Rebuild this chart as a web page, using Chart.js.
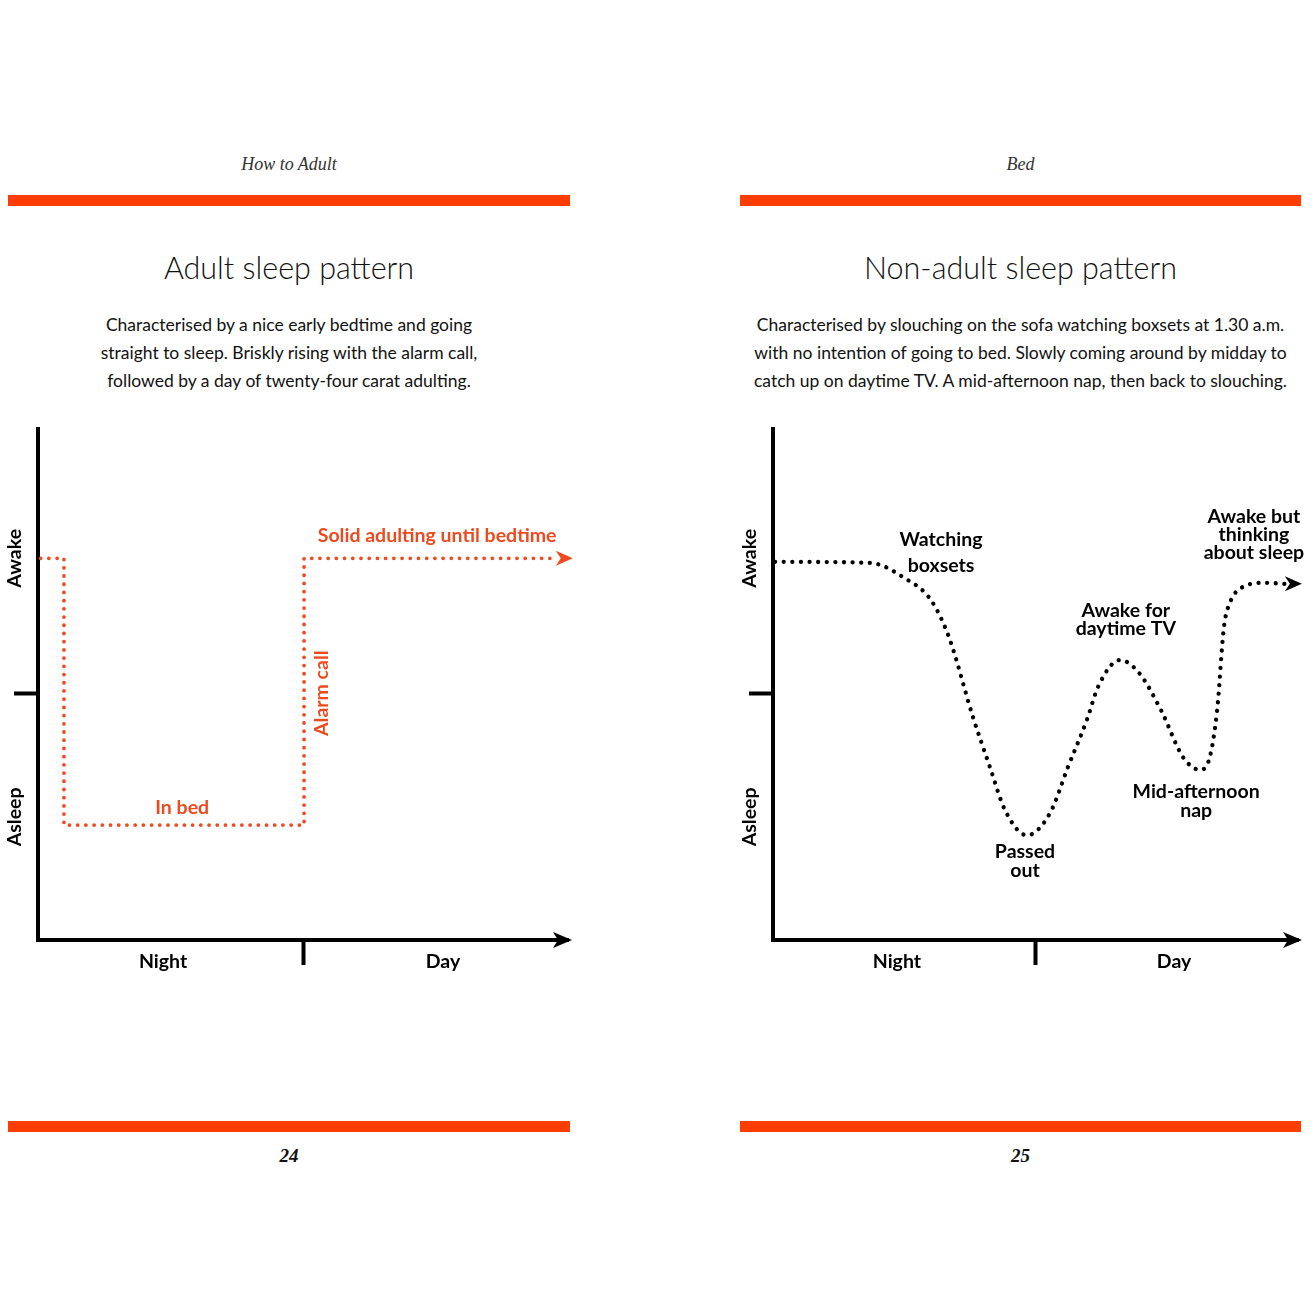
<!DOCTYPE html>
<html>
<head>
<meta charset="utf-8">
<script src="https://cdn.jsdelivr.net/npm/chart.js@4.4.1/dist/chart.umd.min.js"></script>
<style>
  body { margin: 0; width: 1315px; height: 1315px; background: #fff; position: relative; overflow: hidden; }
  .txt { position: absolute; text-align: center; color: #111; }
  .running { font-family: "Liberation Serif", serif; font-style: italic; font-size: 18px; line-height: 24px; top: 152px; color: #333; }
  .title { font-family: Lato, sans-serif; font-weight: 300; font-size: 30.5px; line-height: 40px; top: 247px; }
  .desc { font-family: Lato, sans-serif; font-weight: 400; font-size: 17.5px; line-height: 28px; top: 311px; }
  .folio { font-family: "Liberation Serif", serif; font-style: italic; font-weight: bold; font-size: 19px; line-height: 24px; top: 1144px; }
  .bar { position: absolute; height: 11px; background: #ff3d00; }
  canvas { position: absolute; top: 400px; }
</style>
</head>
<body>
<div class="txt running" style="left:8px;width:562px">How to Adult</div>
<div class="txt running" style="left:740px;width:561px">Bed</div>
<div class="bar" style="left:8px;width:562px;top:195px"></div>
<div class="bar" style="left:740px;width:561px;top:195px"></div>

<div class="txt title" style="left:8px;width:562px">Adult sleep pattern</div>
<div class="txt title" style="left:740px;width:561px">Non-adult sleep pattern</div>

<div class="txt desc" style="left:8px;width:562px">Characterised by a nice early bedtime and going<br>straight to sleep. Briskly rising with the alarm call,<br>followed by a day of twenty-four carat adulting.</div>
<div class="txt desc" style="left:730px;width:581px">Characterised by slouching on the sofa watching boxsets at 1.30 a.m.<br>with no intention of going to bed. Slowly coming around by midday to<br>catch up on daytime TV. A mid-afternoon nap, then back to slouching.</div>

<canvas id="adultChart" width="600" height="600" style="left:0px"></canvas>
<canvas id="nonAdultChart" width="580" height="600" style="left:735px"></canvas>

<div class="bar" style="left:8px;width:562px;top:1121px"></div>
<div class="bar" style="left:740px;width:561px;top:1121px"></div>
<div class="txt folio" style="left:8px;width:562px">24</div>
<div class="txt folio" style="left:740px;width:561px">25</div>

<script>
// axis categories
const yLabels = ['Awake', 'Asleep'];
const yLabelValues = [7.47, 2.41];
const xLabels = ['Night', 'Day'];
const xLabelValues = [2.36, 7.64];
const xDivider = 5;
const yDivider = 4.83;

// adult pattern (stepped)
const adultX = [0.05, 0.49, 0.49, 5.02, 5.02, 9.77];
const adultY = [7.47, 7.47, 2.25, 2.25, 7.47, 7.47];
const adultNotes = ['Solid adulting until bedtime', 'In bed', 'Alarm call'];
const adultNoteX = [7.53, 2.72, 5.36];
const adultNoteY = [7.91, 2.58, 4.83];
const adultNoteRotate = [false, false, true];

// non-adult pattern
const nonAdultX = [0.04, 1.85, 2.51, 3.01, 3.35, 3.81, 4.13, 4.42, 4.84, 5.28, 5.62, 5.98, 6.19, 6.61, 6.97, 7.39, 7.81, 8.13, 8.32, 8.46, 8.59, 8.70, 8.95, 9.37, 9.75];
const nonAdultY = [7.40, 7.38, 7.08, 6.65, 5.93, 4.36, 3.39, 2.54, 2.05, 2.49, 3.39, 4.31, 4.95, 5.48, 5.23, 4.50, 3.58, 3.33, 3.58, 4.50, 6.13, 6.59, 6.91, 6.99, 6.97];
const nonAdultNotes = ['Watching\nboxsets', 'Awake for\ndaytime TV', 'Passed\nout', 'Mid-afternoon\nnap', 'Awake but\nthinking\nabout sleep'];
const nonAdultNoteX = [3.2, 6.72, 4.8, 8.06, 9.16];
const nonAdultNoteY = [7.57, 6.26, 1.55, 2.72, 7.93];
const nonAdultNoteGap = [26, 18, 19, 19, 18];

const ORANGE = '#ee4a1f';
const LABEL_FONT = 'bold 19.5px Lato, sans-serif';

function arrowHead(ctx, x, y, len, half, color) {
    ctx.save();
    ctx.fillStyle = color;
    ctx.beginPath();
    ctx.moveTo(x, y);
    ctx.lineTo(x - len, y - half);
    ctx.lineTo(x - len + 5, y);
    ctx.lineTo(x - len, y + half);
    ctx.closePath();
    ctx.fill();
    ctx.restore();
}

const decor = {
    id: 'decor',
    afterDatasetsDraw(chart, args, opts) {
        const ctx = chart.ctx;
        const area = chart.chartArea;
        const xs = chart.scales.x, ys = chart.scales.y;

        // axis arrow
        arrowHead(ctx, area.right + 4, area.bottom, 19, 8, '#000');
        // close the corner of the two borders
        ctx.fillStyle = '#000';
        ctx.fillRect(area.left - 2, area.bottom - 2, 4, 4);

        // line arrow from last point
        const pts = chart.getDatasetMeta(0).data;
        const last = pts[pts.length - 1];
        arrowHead(ctx, last.x + 17, last.y, 17, 7.5, opts.lineColor);

        ctx.save();
        ctx.font = LABEL_FONT;
        ctx.fillStyle = '#000';
        ctx.textAlign = 'center';
        ctx.textBaseline = 'middle';
        yLabels.forEach((t, i) => {
            ctx.save();
            ctx.translate(area.left - 23, ys.getPixelForValue(yLabelValues[i]));
            ctx.rotate(-Math.PI / 2);
            ctx.fillText(t, 0, 0);
            ctx.restore();
        });
        xLabels.forEach((t, i) => {
            ctx.fillText(t, xs.getPixelForValue(xLabelValues[i]), area.bottom + 22);
        });

        ctx.fillStyle = opts.noteColor;
        opts.notes.forEach((t, i) => {
            const px = xs.getPixelForValue(opts.noteX[i]);
            const py = ys.getPixelForValue(opts.noteY[i]);
            const lines = t.split('\n');
            const gap = opts.noteGap ? opts.noteGap[i] : 19;
            ctx.save();
            ctx.translate(px, py);
            if (opts.noteRotate && opts.noteRotate[i]) ctx.rotate(-Math.PI / 2);
            lines.forEach((ln, k) => {
                ctx.fillText(ln, 0, (k - (lines.length - 1) / 2) * gap);
            });
            ctx.restore();
        });
        ctx.restore();
    }
};

function sleepScales() {
    return {
        x: {
            type: 'linear', min: 0, max: 10,
            border: { color: '#000', width: 4 },
            grid: { drawOnChartArea: false, tickLength: 25, tickWidth: 4, tickColor: '#000' },
            ticks: { display: false },
            afterBuildTicks: axis => { axis.ticks = [{ value: xDivider }]; }
        },
        y: {
            type: 'linear', min: 0, max: 10,
            border: { color: '#000', width: 4 },
            grid: { drawOnChartArea: false, tickLength: 24, tickWidth: 4, tickColor: '#000' },
            ticks: { display: false },
            afterBuildTicks: axis => { axis.ticks = [{ value: yDivider }]; }
        }
    };
}

new Chart(document.getElementById('adultChart'), {
    type: 'scatter',
    data: {
        datasets: [{
            data: adultX.map((x, i) => ({ x: x, y: adultY[i] })),
            showLine: true,
            borderColor: ORANGE,
            borderWidth: 3.8,
            borderDash: [0.01, 8.2],
            borderCapStyle: 'round',
            pointRadius: 0,
            tension: 0,
            clip: false
        }]
    },
    options: {
        responsive: false,
        animation: false,
        events: [],
        layout: { padding: { top: 29, left: 14, bottom: 35, right: 32 } },
        plugins: {
            legend: { display: false },
            tooltip: { enabled: false },
            decor: { lineColor: ORANGE, noteColor: ORANGE, notes: adultNotes, noteX: adultNoteX, noteY: adultNoteY, noteRotate: adultNoteRotate }
        },
        scales: sleepScales()
    },
    plugins: [decor]
});

new Chart(document.getElementById('nonAdultChart'), {
    type: 'scatter',
    data: {
        datasets: [{
            data: nonAdultX.map((x, i) => ({ x: x, y: nonAdultY[i] })),
            showLine: true,
            borderColor: '#000',
            borderWidth: 4.3,
            borderDash: [0.01, 8.6],
            borderCapStyle: 'round',
            pointRadius: 0,
            cubicInterpolationMode: 'monotone',
            clip: false
        }]
    },
    options: {
        responsive: false,
        animation: false,
        events: [],
        layout: { padding: { top: 29, left: 14, bottom: 35, right: 17 } },
        plugins: {
            legend: { display: false },
            tooltip: { enabled: false },
            decor: { lineColor: '#000', noteColor: '#000', notes: nonAdultNotes, noteX: nonAdultNoteX, noteY: nonAdultNoteY, noteGap: nonAdultNoteGap }
        },
        scales: sleepScales()
    },
    plugins: [decor]
});
</script>
</body>
</html>
